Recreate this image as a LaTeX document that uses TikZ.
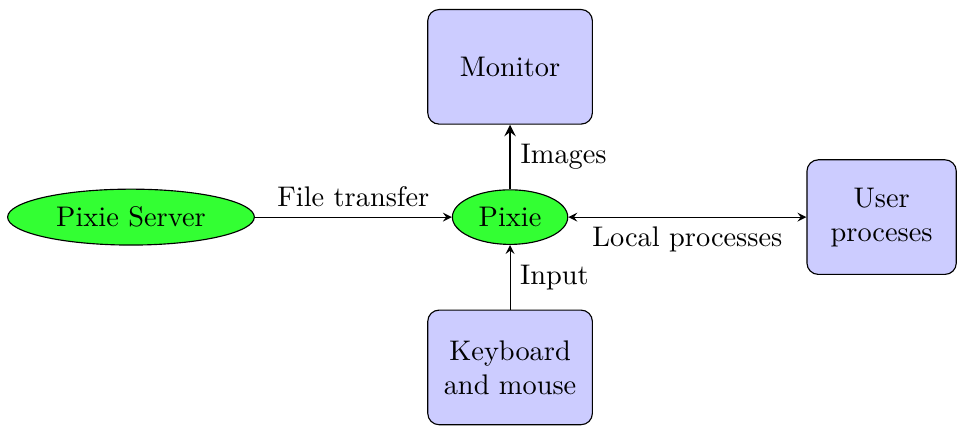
\documentclass[tikz,border=0pt]{standalone}
\usepackage{tikz}
\usetikzlibrary{shapes.geometric, positioning, arrows}

\begin{document}
\begin{tikzpicture}[
    >=stealth,
    auto,
    node distance=0.8cm,
    proc/.style={ellipse, draw, fill=green!80},
    dev/.style={rectangle, draw, rounded corners, fill=blue!20, minimum width=2.04cm, minimum height=1.42cm, align=center}
  ]

  % --- NODES ---
  \node[proc] (pixie) {Pixie};
  \node[proc, inner xsep=4.4pt, left=2.44cm of pixie] (server) {Pixie Server};
  \node[dev, above=of pixie] (monitor) {Monitor};
  \node[dev, below=of pixie] (keyboard) {Keyboard\\and mouse};
  \node[dev, right=2.95cm of pixie, minimum width=1.85cm] (user) {User\\proceses};

  \useasboundingbox (-6.32cm,-2.59cm) rectangle (5.55cm,2.69cm);

  % --- CONNECTIONS ---
  \draw[->] (server) -- node {File transfer} (pixie);
  \draw[->, thick] (pixie) -- node[right] {Images} (monitor);
  \draw[->] (keyboard) -- node[right] {Input} (pixie);
  \draw[<->] (pixie) -- node[below] {Local processes} (user);

\end{tikzpicture}
\end{document}
